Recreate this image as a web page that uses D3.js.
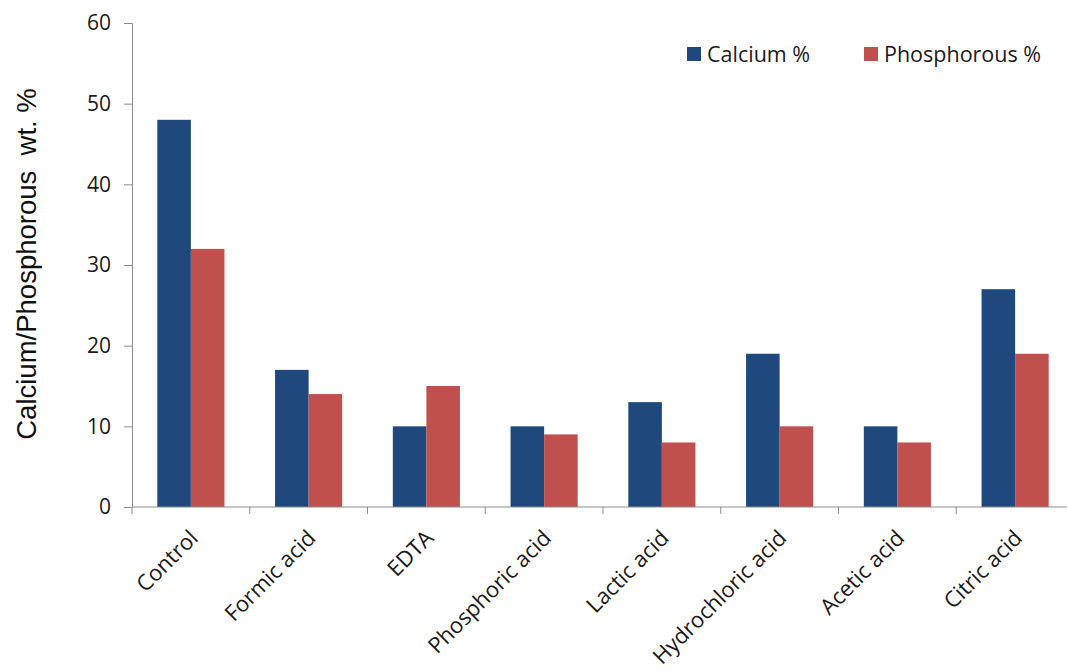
<!DOCTYPE html>
<html>
<head>
<meta charset="utf-8">
<script src="https://cdn.jsdelivr.net/npm/d3@7"></script>
<style>
  html, body { margin: 0; padding: 0; background: #fff; }
  svg { display: block; }
  .tick text { font-family: "Open Sans", sans-serif; fill: #1a1a1a; }
</style>
</head>
<body>
<svg id="chart" width="1067" height="671"></svg>
<script>
// Treatment groups along the x axis
const categories = ["Control", "Formic acid", "EDTA", "Phosphoric acid", "Lactic acid", "Hydrochloric acid", "Acetic acid", "Citric acid"];
// Mineral content (wt. %) for each treatment
const calcium = [48, 17, 10, 10, 13, 19, 10, 27];
const phosphorous = [32, 14, 15, 9, 8, 10, 8, 19];
const seriesNames = ["Calcium %", "Phosphorous %"];
const seriesColors = ["#1f497d", "#c0504d"];
const yTicks = [0, 10, 20, 30, 40, 50, 60];

const svg = d3.select("#chart");
const x0 = 132, x1 = 1074, yTop = 23, yBottom = 507;

const x = d3.scaleBand().domain(categories).range([x0, x1]).paddingInner(0).paddingOuter(0);
const groupWidth = x.bandwidth() * 0.57;
const xs = d3.scaleBand().domain(seriesNames).range([0, groupWidth]).padding(0);
const y = d3.scaleLinear().domain([0, 60]).range([yBottom, yTop]);

const rows = categories.map((c, i) => ({ cat: c, values: [calcium[i], phosphorous[i]] }));

// Bars
const groups = svg.append("g").selectAll("g")
  .data(rows).join("g")
  .attr("transform", d => `translate(${x(d.cat) + (x.bandwidth() - groupWidth) / 2},0)`);
groups.selectAll("rect")
  .data(d => d.values.map((v, j) => ({ v, s: seriesNames[j], c: seriesColors[j] })))
  .join("rect")
  .attr("x", d => xs(d.s))
  .attr("width", xs.bandwidth())
  .attr("y", d => y(d.v))
  .attr("height", d => y(0) - y(d.v))
  .attr("fill", d => d.c);

// Y axis
const yAxis = svg.append("g")
  .attr("transform", `translate(${x0},0)`)
  .call(d3.axisLeft(y).tickValues(yTicks).tickSize(8).tickPadding(13));
yAxis.selectAll("path, line").attr("stroke", "#8c8c8c");
yAxis.selectAll("text").style("font-size", "21px");

// X axis with ticks at the band boundaries
const xAxis = svg.append("g").attr("transform", `translate(0,${yBottom})`);
xAxis.append("line").attr("x1", x0).attr("x2", x1).attr("stroke", "#8c8c8c");
xAxis.selectAll("line.tk")
  .data(categories).join("line").attr("class", "tk")
  .attr("x1", d => x(d)).attr("x2", d => x(d))
  .attr("y1", 0).attr("y2", 7).attr("stroke", "#8c8c8c");
xAxis.selectAll("text")
  .data(categories).join("text")
  .attr("transform", d => `translate(${x(d) + x.bandwidth() / 2 + 3},${27}) rotate(-45)`)
  .attr("text-anchor", "end")
  .attr("dy", "0.35em")
  .style("font-family", "'Open Sans', sans-serif")
  .style("font-size", "22px")
  .style("fill", "#1a1a1a")
  .text(d => d);

// Y axis title
svg.append("text")
  .attr("transform", `translate(36,${264}) rotate(-90)`)
  .attr("text-anchor", "middle")
  .style("font-family", "'Liberation Sans', Arial, sans-serif")
  .style("font-size", "27.5px")
  .style("fill", "#111")
  .style("white-space", "pre")
  .text("Calcium/Phosphorous  wt. %");

// Legend
const legendX = [687, 864];
const legend = svg.append("g").selectAll("g")
  .data(seriesNames).join("g")
  .attr("transform", (d, i) => `translate(${legendX[i]},47)`);
legend.append("rect").attr("width", 14).attr("height", 14).attr("fill", (d, i) => seriesColors[i]);
legend.append("text")
  .attr("x", 20).attr("y", 7).attr("dy", "0.35em")
  .style("font-family", "'Open Sans', sans-serif")
  .style("font-size", "21.5px")
  .style("fill", "#1a1a1a")
  .text(d => d);
</script>
</body>
</html>
